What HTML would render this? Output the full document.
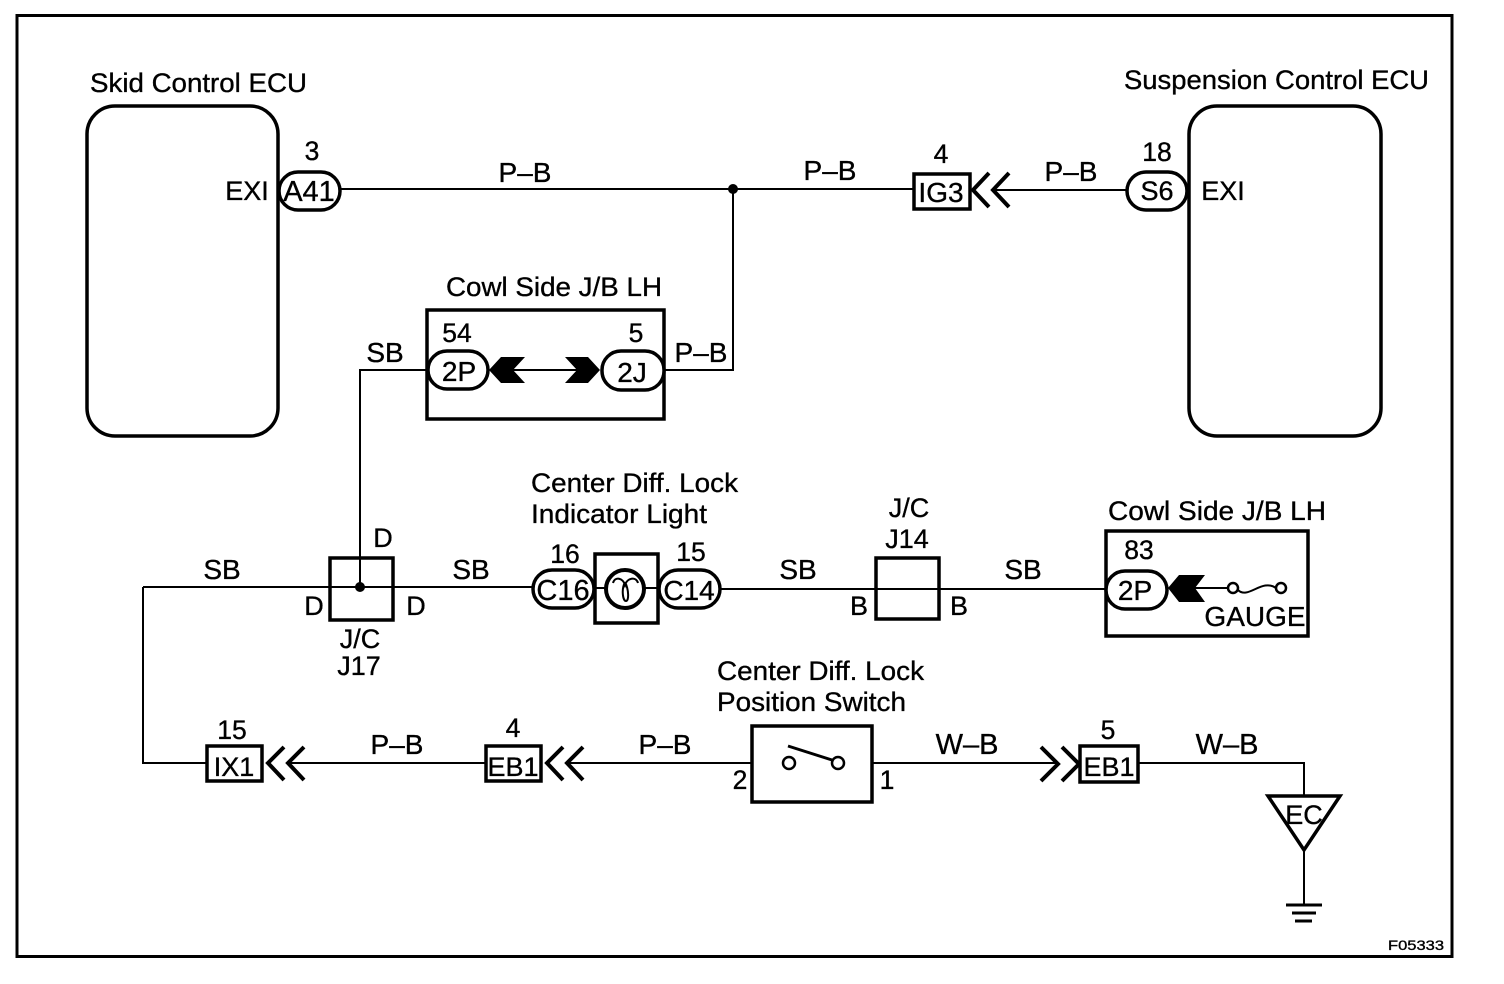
<!DOCTYPE html>
<html>
<head>
<meta charset="utf-8">
<style>
html,body{margin:0;padding:0;background:#fff;width:1504px;height:984px;overflow:hidden}
svg{display:block}
text{font-family:"Liberation Sans",sans-serif;font-size:27px;fill:#000;stroke:#000;stroke-width:.35;text-anchor:middle}
.s{text-anchor:start}
.l{font-size:28px}
.x{font-size:29px}
.n{font-size:26.500px}
.b{fill:#fff;stroke:#000;stroke-width:3.5}
.w{fill:none;stroke:#000;stroke-width:2}
.c{fill:none;stroke:#000;stroke-width:4}
</style>
</head>
<body>
<svg width="1504" height="984" viewBox="0 0 1504 984" xmlns="http://www.w3.org/2000/svg">
<rect x="17" y="15.500" width="1435" height="941" fill="none" stroke="#000" stroke-width="3"/>

<!-- wires -->
<path class="w" d="M340 189H914M733 189V370H664M993 190H1127"/>
<path class="w" d="M428 370H360V587"/>
<path class="w" d="M513 370H577"/>
<path class="w" d="M143 587H533M143 587V763H207M720 589H1106"/>
<path class="w" d="M288 763H486M567 763H752M872 763H1058M1138 763H1304V796"/>
<path class="w" d="M1304 850V905"/>
<path class="w" d="M1195 588H1228"/>

<!-- ECUs -->
<rect class="b" x="87" y="106" width="191" height="330" rx="28"/>
<rect class="b" x="1189" y="106" width="192" height="330" rx="28"/>

<!-- top row -->
<rect class="b" x="279" y="172" width="61" height="38" rx="19"/>
<rect class="b" x="1127" y="172" width="60" height="38" rx="19"/>
<rect class="b" x="914" y="174" width="56" height="35"/>
<path class="c" d="M989 173L973 190L989 207M1009 173L993 190L1009 207"/>
<circle cx="733" cy="189" r="5"/>

<!-- Cowl top -->
<rect class="b" x="427" y="310" width="237" height="109" style="fill:none"/>
<rect class="b" x="428" y="351" width="60" height="38" rx="19"/>
<rect class="b" x="602" y="351" width="62" height="39" rx="19"/>
<polygon points="489,370 501,357 525,357 513,370 525,383 501,383"/>
<polygon points="600,370 588,357 565,357 577,370 565,383 588,383"/>

<!-- middle row -->
<rect class="b" x="330" y="558" width="63" height="62" style="fill:none"/>
<circle cx="360" cy="587" r="5"/>
<rect class="b" x="533" y="570" width="61" height="38" rx="19"/>
<rect class="b" x="659" y="570" width="61" height="38" rx="19"/>
<rect class="b" x="595" y="554" width="63" height="69"/>
<circle class="c" cx="625" cy="589" r="19"/>
<path class="w" d="M594 588H606M644 588H659"/>
<path class="w" d="M613 583C615 576 623 578 625 585C627 578 636 576 638 583M625 582C621 590 623 601 626 601C629 601 629 590 625 582"/>
<rect class="b" x="876" y="558" width="63" height="61" style="fill:none"/>
<rect class="b" x="1106" y="531" width="202" height="105" style="fill:none"/>
<rect class="b" x="1106" y="571" width="61" height="38" rx="19"/>
<polygon points="1168,588 1179,575 1205,575 1195,588 1205,602 1179,602"/>
<circle cx="1233" cy="588" r="5" fill="#fff" stroke="#000" stroke-width="2.500"/>
<circle cx="1281" cy="588" r="5" fill="#fff" stroke="#000" stroke-width="2.500"/>
<path class="w" d="M1238 590C1248 600 1262 578 1276 588"/>

<!-- bottom row -->
<rect class="b" x="207" y="746" width="55" height="35"/>
<path class="c" d="M284 747L268 763L284 780M304 747L288 763L304 780"/>
<rect class="b" x="486" y="746" width="55" height="35"/>
<path class="c" d="M563 747L547 763L563 780M583 747L567 763L583 780"/>
<rect class="b" x="752" y="726" width="120" height="76" style="fill:none"/>
<circle cx="789" cy="763" r="6" fill="#fff" stroke="#000" stroke-width="2.500"/>
<circle cx="838" cy="763" r="6" fill="#fff" stroke="#000" stroke-width="2.500"/>
<path d="M788 746L832 760" stroke="#000" stroke-width="3" fill="none"/>
<path class="c" d="M1041 747L1058 764L1041 781M1062 747L1079 764L1062 781"/>
<rect class="b" x="1080" y="746" width="58" height="36"/>

<!-- ground -->
<polygon points="1268,796 1340,796 1304,850" fill="none" stroke="#000" stroke-width="3.500"/>
<path d="M1286 905H1322M1292 913H1316M1295 921H1312" stroke="#000" stroke-width="3" fill="none"/>

<!-- labels -->
<text class="s" x="90" y="92" textLength="217" lengthAdjust="spacingAndGlyphs">Skid Control ECU</text>
<text class="s" x="1124" y="89" textLength="305" lengthAdjust="spacingAndGlyphs">Suspension Control ECU</text>
<text x="247" y="200">EXI</text>
<text class="n" x="312" y="160">3</text>
<text class="x" x="309" y="201">A41</text>
<text class="l" x="525" y="182">P–B</text>
<text class="l" x="830" y="180">P–B</text>
<text class="n" x="941" y="163">4</text>
<text class="l" x="941" y="202">IG3</text>
<text class="l" x="1071" y="181">P–B</text>
<text class="n" x="1157" y="161">18</text>
<text x="1157" y="200">S6</text>
<text x="1223" y="200">EXI</text>

<text class="s" x="446" y="296" textLength="216" lengthAdjust="spacingAndGlyphs">Cowl Side J/B LH</text>
<text class="n" x="457" y="342">54</text>
<text class="n" x="636" y="342">5</text>
<text class="l" x="459" y="381">2P</text>
<text class="l" x="632" y="382">2J</text>
<text class="l" x="701" y="362">P–B</text>
<text class="l" x="385" y="362">SB</text>

<text class="s" x="531" y="492" textLength="207" lengthAdjust="spacingAndGlyphs">Center Diff. Lock</text>
<text class="s" x="531" y="523" textLength="176" lengthAdjust="spacingAndGlyphs">Indicator Light</text>
<text x="909" y="517">J/C</text>
<text x="907" y="548">J14</text>
<text class="s" x="1108" y="520" textLength="218" lengthAdjust="spacingAndGlyphs">Cowl Side J/B LH</text>
<text class="n" x="1139" y="559">83</text>
<text class="l" x="1135" y="600">2P</text>
<text class="l" x="1255" y="626">GAUGE</text>

<text class="l" x="222" y="579">SB</text>
<text x="383" y="547">D</text>
<text x="314" y="615">D</text>
<text x="416" y="615">D</text>
<text x="360" y="648">J/C</text>
<text x="359" y="675">J17</text>
<text class="l" x="471" y="579">SB</text>
<text class="n" x="565" y="563">16</text>
<text class="x" x="563" y="600">C16</text>
<text class="n" x="691" y="561">15</text>
<text class="l" x="689" y="600">C14</text>
<text class="l" x="798" y="579">SB</text>
<text x="859" y="615">B</text>
<text x="959" y="615">B</text>
<text class="l" x="1023" y="579">SB</text>

<text class="s" x="717" y="680" textLength="207" lengthAdjust="spacingAndGlyphs">Center Diff. Lock</text>
<text class="s" x="717" y="711" textLength="189" lengthAdjust="spacingAndGlyphs">Position Switch</text>
<text class="n" x="232" y="739">15</text>
<text x="234" y="776">IX1</text>
<text class="l" x="397" y="754">P–B</text>
<text class="n" x="513" y="737">4</text>
<text x="513" y="776">EB1</text>
<text class="l" x="665" y="754">P–B</text>
<text class="n" x="740" y="789">2</text>
<text class="n" x="887" y="789">1</text>
<text class="x" x="967" y="754">W–B</text>
<text class="n" x="1108" y="739">5</text>
<text x="1109" y="776">EB1</text>
<text class="x" x="1227" y="754">W–B</text>
<text x="1304" y="824">EC</text>
<text class="s" x="1388" y="950" style="font-size:14px" textLength="56" lengthAdjust="spacingAndGlyphs">F05333</text>
</svg>
</body>
</html>
